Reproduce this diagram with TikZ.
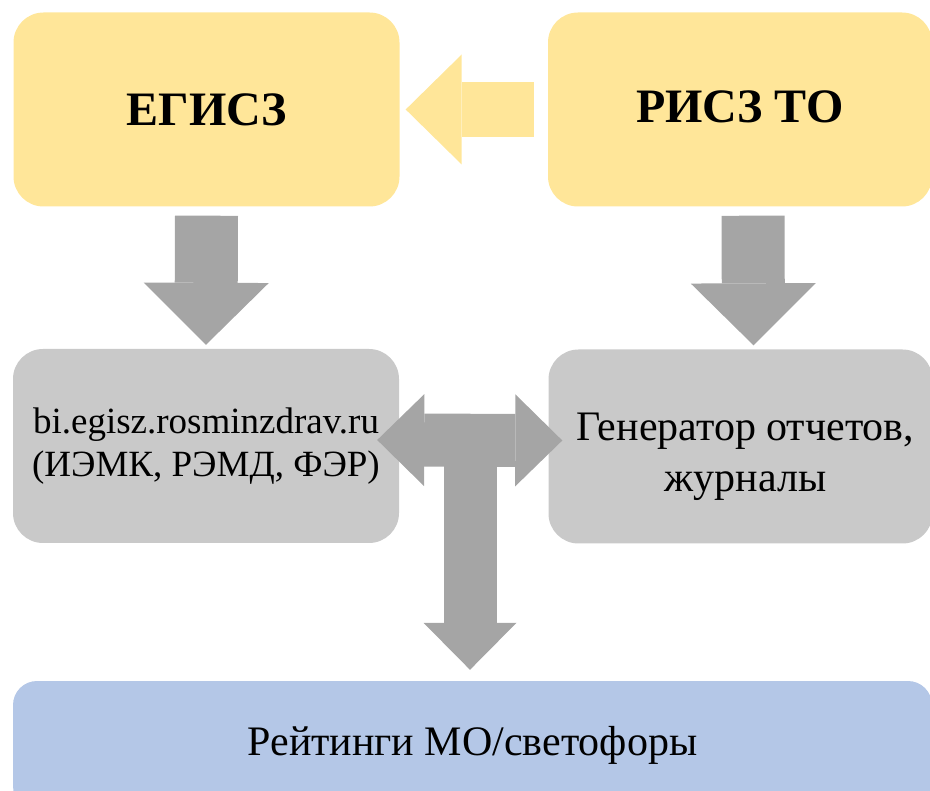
\documentclass[tikz,border=0pt]{standalone}
\usepackage{fontspec}
\setmainfont{Liberation Serif}
\usetikzlibrary{positioning}
\usetikzlibrary{calc}
\usetikzlibrary{arrows.meta}
\definecolor{boxyellow}{HTML}{FFE699}
\definecolor{boxgrey}{HTML}{C9C9C9}
\definecolor{arrowgrey}{HTML}{A5A5A5}
\definecolor{boxblue}{HTML}{B4C7E7}

\begin{document}
\begin{tikzpicture}[x=1pt, y=-1pt,
    box/.style={rectangle, rounded corners=30pt, inner sep=0pt,
        minimum width=386pt, minimum height=194pt, align=center},
    bigtext/.style={font=\fontsize{48}{54}\selectfont\bfseries},
    smalltext/.style={font=\fontsize{37}{43}\selectfont, align=center},
    midtext/.style={font=\fontsize{42}{51}\selectfont, align=center},
    downarrow/.style={draw=arrowgrey, line width=63pt,
        -{Triangle[width=125pt, length=62pt, line width=0pt]}},
    backarrow/.style={draw=boxyellow, line width=55pt,
        -{Triangle[width=110pt, length=56pt, line width=0pt]}},
    botharrow/.style={draw=arrowgrey, line width=53pt,
        {Triangle[width=92pt, length=47pt, line width=0pt]}-{Triangle[width=92pt, length=47pt, line width=0pt]}},
    teearrow/.style={draw=arrowgrey, line width=53pt,
        -{Triangle[width=93pt, length=47pt, line width=0pt]}}]
    \useasboundingbox (0,0) rectangle (930,791);
    \clip (0,0) rectangle (930,791);

        % top row
        \node [box, fill=boxyellow, bigtext] (egisz) at (206.5,109.5) {ЕГИСЗ};
        \node [box, fill=boxyellow, bigtext, minimum width=384pt] (risz) at (740,109.5)
            {\raisebox{5pt}{РИСЗ ТО}};

        % middle row
        \node [box, fill=boxgrey, smalltext] (bi) at (206,446)
            {bi.egisz.rosminzdrav.ru\\(ИЭМК, РЭМД, ФЭР)};
        \node [box, fill=boxgrey, minimum width=384pt] (gen) at (740.5,446.5) {};
        \node [midtext] (gentext) at ([xshift=5pt, yshift=-10pt]gen.center)
            {Генератор отчетов,\\журналы};

        % bottom
        \node [box, fill=boxblue, midtext, rounded corners=24pt,
            minimum width=919pt, minimum height=129pt] (rating) at (472.5,745.5)
            {Рейтинги МО/светофоры};

        \path[backarrow] ([xshift=-14pt]risz.west) -- ([xshift=6pt]egisz.east);
        \path[downarrow] ([yshift=-9pt]egisz.south) -- ([yshift=4pt]bi.north);
        \path[downarrow] ([xshift=13pt, yshift=-9pt]risz.south) -- ([xshift=13pt, yshift=4pt]gen.north);

        \coordinate (hub) at (470,441);
        \path[botharrow] ([xshift=-22pt, yshift=6pt]bi.east) -- ([xshift=14pt, yshift=6pt]gen.west);
        \path[teearrow] (hub) -- ($(rating.north -| hub)+(0,-11)$);
    \end{tikzpicture}
\end{document}
